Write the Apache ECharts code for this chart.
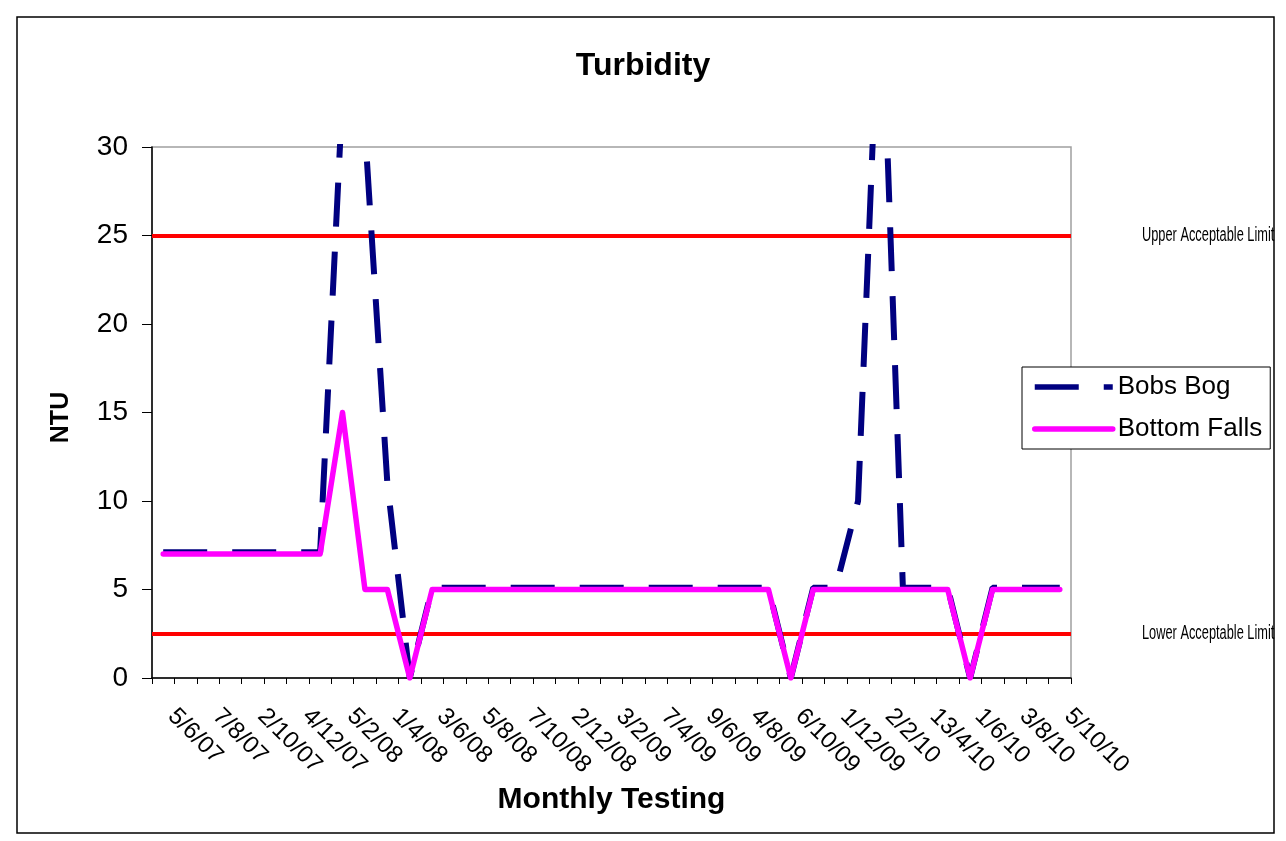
<!DOCTYPE html>
<html>
<head>
<meta charset="utf-8">
<script src="https://cdn.jsdelivr.net/npm/echarts@6/dist/echarts.min.js"></script>
<style>
  html, body { margin: 0; padding: 0; background: #fff; }
  #chart { width: 1286px; height: 841px; }
</style>
</head>
<body>
<div id="chart"></div>
<script>
// monthly samples, June 2007 - October 2010; only every second date is printed
var months = [
  '5/6/07', '', '7/8/07', '', '2/10/07', '', '4/12/07', '', '5/2/08', '',
  '1/4/08', '', '3/6/08', '', '5/8/08', '', '7/10/08', '', '2/12/08', '',
  '3/2/09', '', '7/4/09', '', '9/6/09', '', '4/8/09', '', '6/10/09', '',
  '1/12/09', '', '2/2/10', '', '13/4/10', '', '1/6/10', '', '3/8/10', '',
  '5/10/10'
];

var bobsBog = [
  7.1, 7.1, 7.1, 7.1, 7.1, 7.1, 7.1, 7.1, 33, 31,
  11, 0, 5.1, 5.1, 5.1, 5.1, 5.1, 5.1, 5.1, 5.1,
  5.1, 5.1, 5.1, 5.1, 5.1, 5.1, 5.1, 5.1, 0, 5.1,
  5.1, 10, 41, 5.1, 5.1, 5.1, 0, 5.1, 5.1, 5.1,
  5.1
];

var bottomFalls = [
  7, 7, 7, 7, 7, 7, 7, 7, 15, 5,
  5, 0, 5, 5, 5, 5, 5, 5, 5, 5,
  5, 5, 5, 5, 5, 5, 5, 5, 0, 5,
  5, 5, 5, 5, 5, 5, 0, 5, 5, 5,
  5
];

var limitValues = [25, 2.5];
var limitNames = ['Upper Acceptable Limit', 'Lower Acceptable Limit'];

var font = '"Liberation Sans", Arial, sans-serif';

var chart = echarts.init(document.getElementById('chart'));
chart.setOption({
  animation: false,
  backgroundColor: '#fff',
  title: {
    text: 'Turbidity',
    left: 'center',
    top: 45,
    textStyle: { fontFamily: font, fontSize: 32, fontWeight: 'bold', color: '#000' }
  },
  legend: {
    data: ['Bobs Bog', 'Bottom Falls'],
    orient: 'vertical',
    left: 1022,
    top: 367,
    padding: [7, 8, 7, 10],
    itemWidth: 78,
    itemHeight: 14,
    itemGap: 16,
    borderColor: '#000',
    borderWidth: 1,
    backgroundColor: '#fff',
    lineStyle: { width: 5.5 },
    itemStyle: { opacity: 0, borderWidth: 0 },
    textStyle: { fontFamily: font, fontSize: 26, color: '#000' }
  },
  grid: {
    left: 152, right: 215, top: 147, bottom: 163,
    show: true, borderColor: '#a0a0a0', borderWidth: 1.5,
    outerBoundsMode: 'none'
  },
  xAxis: {
    type: 'category',
    data: months,
    boundaryGap: true,
    name: 'Monthly Testing',
    nameLocation: 'middle',
    nameGap: 107,
    nameMoveOverlap: false,
    nameTextStyle: { fontFamily: font, fontSize: 30, fontWeight: 'bold', color: '#000' },
    axisLine: { lineStyle: { color: '#000', width: 1.5 } },
    axisTick: { show: true, interval: 0, length: 6, lineStyle: { color: '#000' } },
    axisLabel: {
      interval: 0, rotate: -45, margin: 26, padding: [0, 0, 12, 12],
      fontFamily: font, fontSize: 24, color: '#000'
    },
    splitLine: { show: false }
  },
  yAxis: {
    type: 'value',
    min: 0, max: 30, interval: 5,
    name: 'NTU',
    nameLocation: 'middle',
    nameRotate: 90,
    nameGap: 78,
    nameMoveOverlap: false,
    nameTextStyle: { fontFamily: font, fontSize: 25, fontWeight: 'bold', color: '#000', padding: [0, 10, 0, 0] },
    axisLine: { show: true, lineStyle: { color: '#000', width: 1.5 } },
    axisTick: { show: true, length: 10, lineStyle: { color: '#000' } },
    axisLabel: { margin: 24, fontFamily: font, fontSize: 28, color: '#000' },
    splitLine: { show: false }
  },
  series: [
    {
      name: 'limits',
      type: 'line',
      data: [],
      z: 1,
      markLine: {
        silent: true,
        z: 1,
        symbol: ['none', 'none'],
        lineStyle: { color: '#ff0000', width: 4, type: 'solid' },
        label: { show: false },
        data: limitValues.map(function (v) {
          return { yAxis: v };
        })
      }
    },
    {
      name: 'Bobs Bog',
      type: 'line',
      data: bobsBog,
      symbol: 'none',
      z: 2,
      itemStyle: { color: '#000080' },
      lineStyle: { color: '#000080', width: 6, type: [44, 25] }
    },
    {
      name: 'Bottom Falls',
      type: 'line',
      data: bottomFalls,
      symbol: 'none',
      z: 3,
      itemStyle: { color: '#ff00ff' },
      lineStyle: { color: '#ff00ff', width: 5.5, cap: 'round', join: 'round' }
    }
  ]
});

// limit captions sit right of the plot, at the limit values; condensed like the original
var x0 = chart.convertToPixel({ xAxisIndex: 0 }, 0);
var x1 = chart.convertToPixel({ xAxisIndex: 0 }, 1);
var xEnd = chart.convertToPixel({ xAxisIndex: 0 }, months.length - 1) + (x1 - x0) / 2;

var captions = limitValues.map(function (v, i) {
  return {
    type: 'text',
    x: xEnd + 71,
    y: chart.convertToPixel({ yAxisIndex: 0 }, v),
    scaleX: 0.64,
    silent: true,
    style: {
      text: limitNames[i],
      font: '20px "Liberation Sans", Arial, sans-serif',
      fill: '#000',
      align: 'left',
      verticalAlign: 'middle'
    }
  };
});

chart.setOption({
  graphic: [{
    type: 'rect',
    shape: { x: 17, y: 17, width: 1257, height: 816 },
    style: { fill: 'none', stroke: '#000', lineWidth: 1.5 },
    silent: true
  }].concat(captions)
});

window.addEventListener('resize', function () {
  chart.resize();
});
</script>
</body>
</html>
